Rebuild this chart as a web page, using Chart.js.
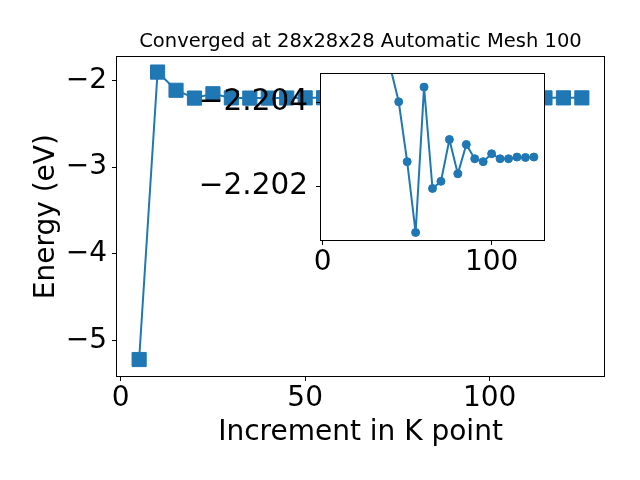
<!DOCTYPE html>
<html>
<head>
<meta charset="utf-8">
<script src="https://cdn.jsdelivr.net/npm/chart.js@4"></script>
<style>
  html, body { margin: 0; padding: 0; background: #fff; }
  #wrap { position: relative; width: 640px; height: 480px; }
  #mainChart { position: absolute; left: 0; top: 0; }
  #insetChart { position: absolute; left: 190px; top: 48px; }
</style>
</head>
<body>
<div id="wrap">
  <canvas id="mainChart" width="640" height="480"></canvas>
  <canvas id="insetChart" width="370" height="233"></canvas>
</div>
<script>
// k point increments and total energies (eV)
const kPoints = [5, 10, 15, 20, 25, 30, 35, 40, 45, 50, 55, 60, 65, 70, 75, 80, 85, 90, 95, 100, 105, 110, 115, 120, 125];
const energies = [-5.22, -1.905, -2.115, -2.205, -2.155, -2.203, -2.205,
  -2.20485, -2.20402, -2.20259, -2.20090, -2.20437, -2.20195, -2.20212, -2.20312, -2.20230,
  -2.20300, -2.20266, -2.20259, -2.20278, -2.20266, -2.20266, -2.20270, -2.20269, -2.20270];

// zoomed part shown in the inset
const insetKPoints = [40, 45, 50, 55, 60, 65, 70, 75, 80, 85, 90, 95, 100, 105, 110, 115, 120, 125];
const insetEnergies = [-2.20485, -2.20402, -2.20259, -2.20090, -2.20437, -2.20195, -2.20212, -2.20312, -2.20230,
  -2.20300, -2.20266, -2.20259, -2.20278, -2.20266, -2.20266, -2.20270, -2.20269, -2.20270];

const mainXTicks = [0, 50, 100];
const mainYTicks = [-5, -4, -3, -2];
const insetXTicks = [0, 100];
const insetYTicks = [-2.204, -2.202];

const blue = '#1f77b4';
const fontFamily = "'DejaVu Sans', sans-serif";

function minus(s) {
  return s.replace('-', '\u2212');
}

function toXY(xs, ys) {
  return xs.map((x, i) => ({ x: x, y: ys[i] }));
}

// white face behind the plot and the black frame round it
const axesBox = {
  id: 'axesBox',
  beforeDraw(chart) {
    const a = chart.chartArea;
    const ctx = chart.ctx;
    ctx.save();
    ctx.fillStyle = '#fff';
    ctx.fillRect(a.left, a.top, a.right - a.left, a.bottom - a.top);
    ctx.restore();
  },
  afterDatasetsDraw(chart) {
    const a = chart.chartArea;
    const ctx = chart.ctx;
    ctx.save();
    ctx.strokeStyle = '#000';
    ctx.lineWidth = 1;
    ctx.strokeRect(Math.round(a.left) - 0.5, Math.round(a.top) - 0.5,
      Math.round(a.right - a.left) + 1, Math.round(a.bottom - a.top) + 1);
    ctx.restore();
  }
};

function axis(min, max, ticks, fmt, pad, size, extra) {
  return Object.assign({
    type: 'linear',
    min: min,
    max: max,
    afterBuildTicks: scale => { scale.ticks = ticks.map(v => ({ value: v })); },
    grid: { drawOnChartArea: false, drawTicks: true, tickLength: 5, color: '#000' },
    border: { display: false },
    ticks: {
      autoSkip: false,
      maxRotation: 0,
      padding: pad,
      color: '#000',
      font: { family: fontFamily, size: size },
      callback: fmt
    }
  }, extra);
}

new Chart(document.getElementById('mainChart'), {
  type: 'line',
  data: {
    datasets: [{
      data: toXY(kPoints, energies),
      borderColor: blue,
      backgroundColor: blue,
      borderWidth: 2,
      pointStyle: 'rect',
      pointRadius: 10,
      pointBorderWidth: 1,
      pointBorderColor: blue,
      pointBackgroundColor: blue,
      tension: 0
    }]
  },
  options: {
    responsive: false,
    animation: false,
    devicePixelRatio: 1,
    layout: { padding: { left: 0, right: 36, top: 0, bottom: 0 } },
    plugins: {
      legend: { display: false },
      tooltip: { enabled: false },
      title: {
        display: true,
        fullSize: false,
        text: 'Converged at 28x28x28 Automatic Mesh 100',
        color: '#000',
        font: { family: fontFamily, size: 19.5, weight: 'normal' },
        padding: { top: 30, bottom: 4 }
      }
    },
    scales: {
      x: axis(-1, 131, mainXTicks, v => minus(String(v)), 1, 28, {
        afterFit: s => { s.height = 104; },
        title: {
          display: true,
          text: 'Increment in K point',
          color: '#000',
          font: { family: fontFamily, size: 28 },
          padding: { top: 0, bottom: 30 }
        }
      }),
      y: axis(-5.41, -1.736, mainYTicks, v => minus(String(v)), 5, 28, {
        afterFit: s => { s.width = 117; },
        title: {
          display: true,
          text: 'Energy (eV)',
          color: '#000',
          font: { family: fontFamily, size: 28 },
          padding: { top: 30, bottom: 0 }
        }
      })
    }
  },
  plugins: [axesBox]
});

new Chart(document.getElementById('insetChart'), {
  type: 'line',
  data: {
    datasets: [{
      data: toXY(insetKPoints, insetEnergies),
      borderColor: blue,
      backgroundColor: blue,
      borderWidth: 2,
      pointStyle: 'circle',
      pointRadius: 4,
      pointBorderWidth: 1,
      pointBorderColor: blue,
      pointBackgroundColor: blue,
      tension: 0
    }]
  },
  options: {
    responsive: false,
    animation: false,
    devicePixelRatio: 1,
    layout: { padding: { left: 0, right: 16, top: 0, bottom: 0 } },
    plugins: { legend: { display: false }, tooltip: { enabled: false } },
    scales: {
      x: axis(-1, 131, insetXTicks, v => String(v), 1, 28, {
        afterFit: s => { s.height = 41; }
      }),
      y: axis(-2.20469, -2.20072, insetYTicks, v => minus(v.toFixed(3)), 8, 29.5, {
        reverse: true,
        afterFit: s => { s.width = 131; }
      })
    }
  },
  plugins: [axesBox]
});
</script>
</body>
</html>
